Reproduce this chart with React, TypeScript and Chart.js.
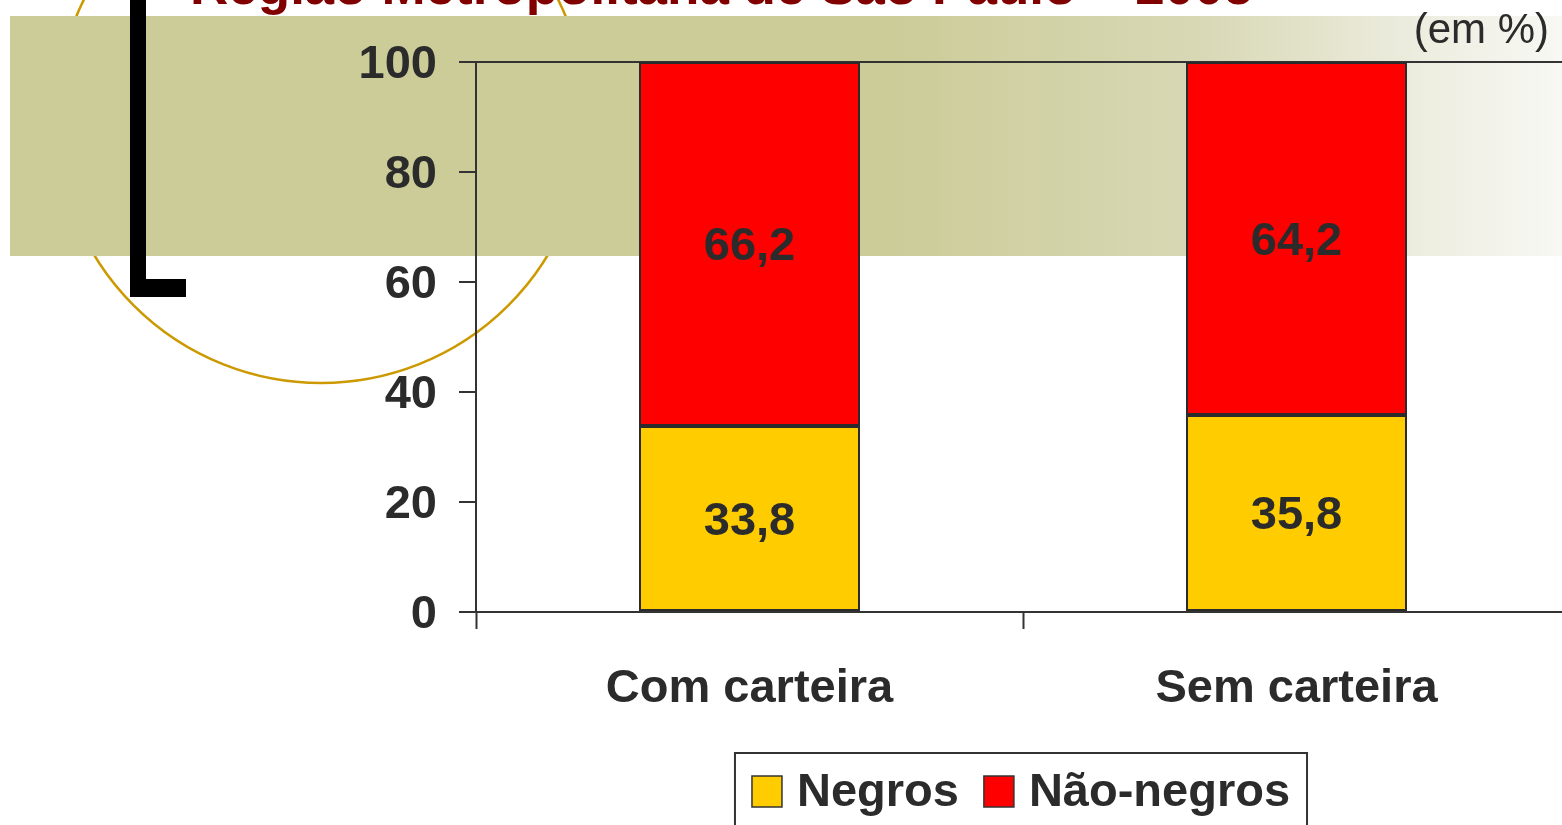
import React, { useEffect, useRef } from "react";
import { Chart, registerables } from "chart.js";

Chart.register(...registerables);

const categories = ["Com carteira", "Sem carteira"];
const seriesNames = ["Negros", "Não-negros"];
const negros = [33.8, 35.8];
const naoNegros = [66.2, 64.2];
const seriesColors = ["#FFCC00", "#FF0000"];
const yTicks = [0, 20, 40, 60, 80, 100];
const titleText = "Região Metropolitana de São Paulo – 2005";
const unitText = "(em %)";

const FONT = "'Liberation Sans', Arial, sans-serif";
const TEXT = "#2b2b2b";

const decorPlugin = {
  id: "decor",
  beforeDraw(chart: any) {
    const ctx = chart.ctx;
    ctx.save();
    ctx.fillStyle = "#ffffff";
    ctx.fillRect(0, 0, chart.width, chart.height);
    // circle
    ctx.beginPath();
    ctx.arc(321, 118, 265, 0, Math.PI * 2);
    ctx.strokeStyle = "#CC9900";
    ctx.lineWidth = 2.5;
    ctx.stroke();
    // band
    const g = ctx.createLinearGradient(900, 0, 1562, 0);
    g.addColorStop(0, "#CCCC99");
    g.addColorStop(0.45, "#D8D8B5");
    g.addColorStop(0.77, "#ECECDE");
    g.addColorStop(1, "#F8F8F4");
    ctx.fillStyle = g;
    ctx.fillRect(10, 16, 1600, 240);
    // L shape
    ctx.fillStyle = "#000000";
    ctx.fillRect(130, 0, 16, 297);
    ctx.fillRect(130, 279, 56, 18);
    // title
    ctx.fillStyle = "#800000";
    ctx.font = `bold 53px ${FONT}`;
    ctx.textAlign = "left";
    ctx.textBaseline = "alphabetic";
    ctx.fillText(titleText, 190, 4);
    // unit
    ctx.fillStyle = TEXT;
    ctx.font = `42px ${FONT}`;
    ctx.textAlign = "right";
    ctx.textBaseline = "middle";
    ctx.fillText(unitText, 1549, 31);
    ctx.restore();
  },
  afterDatasetsDraw(chart: any) {
    const ctx = chart.ctx;
    ctx.save();
    ctx.fillStyle = TEXT;
    ctx.font = `bold 47px ${FONT}`;
    ctx.textAlign = "center";
    ctx.textBaseline = "middle";
    chart.data.datasets.forEach((ds: any, di: number) => {
      const meta = chart.getDatasetMeta(di);
      meta.data.forEach((bar: any, i: number) => {
        const v = ds.data[i];
        const y = (bar.y + bar.base) / 2;
        ctx.fillText(v.toFixed(1).replace(".", ","), bar.x, y + 3);
      });
    });
    ctx.restore();
  },
  afterDraw(chart: any) {
    const ctx = chart.ctx;
    ctx.save();
    ctx.font = `bold 47px ${FONT}`;
    const sq = 30;
    const gapText = 15;
    const gapItem = 25;
    const pad = 17;
    const items = chart.data.datasets.map((ds: any) => ({
      label: ds.label,
      color: ds.backgroundColor,
      w: ctx.measureText(ds.label).width,
    }));
    let total = 0;
    items.forEach((it: any, i: number) => {
      total += sq + gapText + it.w + (i < items.length - 1 ? gapItem : 0);
    });
    const area = chart.chartArea;
    const cx = (area.left + area.right) / 2 - 2;
    let x = cx - total / 2;
    const boxTop = 753;
    ctx.strokeStyle = "#333333";
    ctx.lineWidth = 2;
    ctx.strokeRect(x - pad, boxTop, total + pad * 2, 120);
    const cy = 791;
    items.forEach((it: any) => {
      ctx.fillStyle = it.color;
      ctx.fillRect(x, cy - 15, sq, 31);
      ctx.strokeStyle = "#333333";
      ctx.lineWidth = 1.5;
      ctx.strokeRect(x, cy - 15, sq, 31);
      x += sq + gapText;
      ctx.fillStyle = TEXT;
      ctx.textAlign = "left";
      ctx.textBaseline = "middle";
      ctx.fillText(it.label, x, cy + 2);
      x += it.w + gapItem;
    });
    ctx.restore();
  },
};

export default function App() {
  const ref = useRef<HTMLCanvasElement>(null);
  useEffect(() => {
    if (!ref.current) return;
    const chart = new Chart(ref.current, {
      type: "bar",
      data: {
        labels: categories,
        datasets: [
          {
            label: seriesNames[0],
            data: negros,
            backgroundColor: seriesColors[0],
            borderColor: "#2b2b2b",
            borderWidth: 2,
            borderSkipped: false,
            barPercentage: 0.404,
            categoryPercentage: 1,
          },
          {
            label: seriesNames[1],
            data: naoNegros,
            backgroundColor: seriesColors[1],
            borderColor: "#2b2b2b",
            borderWidth: 2,
            borderSkipped: false,
            barPercentage: 0.404,
            categoryPercentage: 1,
          },
        ],
      },
      options: {
        responsive: false,
        animation: false,
        layout: { padding: { top: 62, left: 0, right: 30, bottom: 0 } },
        plugins: {
          legend: { display: false },
          tooltip: { enabled: false },
          title: { display: false },
        },
        scales: {
          x: {
            stacked: true,
            afterFit: (s: any) => {
              s.height = 213;
            },
            grid: {
              drawOnChartArea: false,
              offset: true,
              tickLength: 17,
              tickColor: "#333333",
              tickWidth: 2,
            },
            border: { display: true, color: "#333333", width: 2 },
            ticks: {
              color: TEXT,
              font: { family: FONT, size: 47, weight: "bold" },
              padding: 32,
              maxRotation: 0,
            },
          },
          y: {
            stacked: true,
            min: 0,
            max: 100,
            afterFit: (s: any) => {
              s.width = 476;
            },
            afterBuildTicks: (s: any) => {
              s.ticks = yTicks.map((v) => ({ value: v }));
            },
            grid: {
              drawOnChartArea: true,
              color: (c: any) => (c.tick && c.tick.value === 100 ? "#333333" : "rgba(0,0,0,0)"),
              lineWidth: 2,
              tickLength: 17,
              tickColor: "#333333",
              tickWidth: 2,
            },
            border: { display: true, color: "#333333", width: 2 },
            ticks: {
              color: TEXT,
              font: { family: FONT, size: 47, weight: "bold" },
              padding: 22,
              labelOffset: 3,
            },
          },
        },
      },
      plugins: [decorPlugin],
    });
    return () => chart.destroy();
  }, []);
  return (
    <div
      style={{
        position: "fixed",
        left: 0,
        top: 0,
        width: 1562,
        height: 825,
        overflow: "hidden",
        background: "#fff",
      }}
    >
      <canvas ref={ref} width={1600} height={825} style={{ display: "block" }} />
    </div>
  );
}
